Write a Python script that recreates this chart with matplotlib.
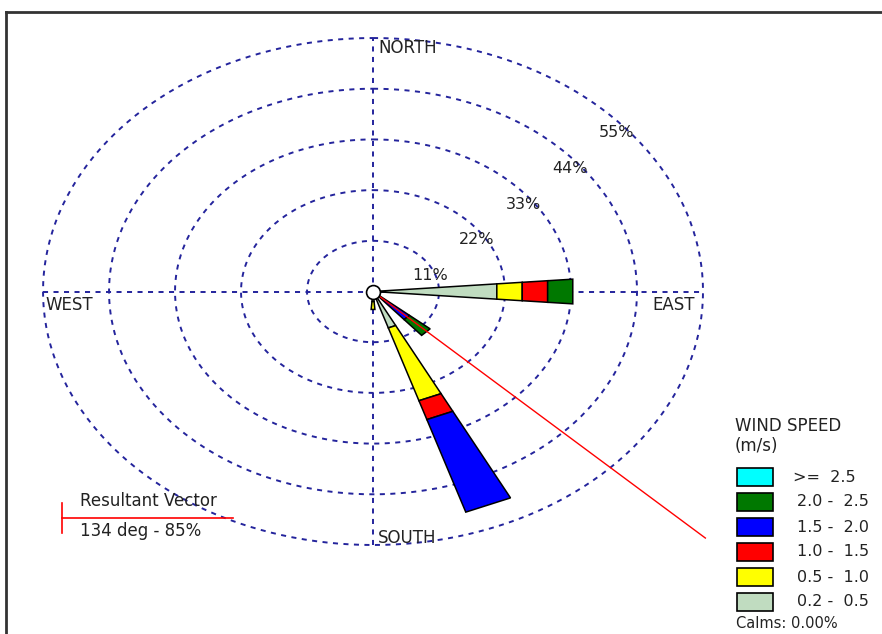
import numpy as np
import matplotlib
matplotlib.use('Agg')
import matplotlib.pyplot as plt
from matplotlib.patches import Rectangle
from matplotlib.lines import Line2D

plt.rcParams['font.family'] = ['DejaVu Sans']

# wind directions (deg from north) and frequency (%) per speed class
directions = [90, 135, 157.5, 180]
speed_labels = ['0.2 -  0.5', '0.5 -  1.0', '1.0 -  1.5', '1.5 -  2.0', '2.0 -  2.5', '>=  2.5']
speed_colors = ['#c0dcc0', '#ffff00', '#ff0000', '#0000ff', '#007800', '#00ffff']
freq_02_05 = [20.7, 0.5, 8.3, 2.2]
freq_05_10 = [4.25, 0.4, 16.6, 1.7]
freq_10_15 = [4.25, 0.6, 4.3, 0.0]
freq_15_20 = [0.0, 6.5, 21.1, 0.0]
freq_20_25 = [4.2, 4.5, 0.0, 0.0]
freq_25_up = [0.0, 0.0, 0.0, 0.0]
rings = [11, 22, 33, 44, 55]
resultant_dir = 134
resultant_pct = 85
calms = 0.00

W, H = 882, 634
fig = plt.figure(figsize=(W / 100, H / 100), dpi=100)
ax = fig.add_axes([0, 0, 1, 1])
ax.set_xlim(-62.17, 84.83)
ax.set_ylim(-74.31, 63.25)
ax.axis('off')


def xy(r, deg):
    t = np.radians(deg)
    return r * np.sin(t), r * np.cos(t)


# grid
grid_c = '#24249c'
th = np.linspace(0, 360, 361)
for r in rings:
    gx, gy = xy(r, th)
    ax.plot(gx, gy, color=grid_c, lw=1.4, dashes=(2.6, 2.8), zorder=1)
    lx, ly = xy(r, 45)
    ax.annotate(f'{r}%', (lx, ly), xytext=(7.5, -14.5), textcoords='offset points',
                ha='center', va='center', fontsize=11.5, color='#222222')
ax.plot([-55, 55], [0, 0], color=grid_c, lw=1.4, dashes=(2.6, 2.8), zorder=1)
ax.plot([0, 0], [-55, 55], color=grid_c, lw=1.4, dashes=(2.6, 2.8), zorder=1)

tk = dict(fontsize=12, color='#222222', textcoords='offset points', va='center')
ax.annotate('NORTH', (0, 55), xytext=(3.5, -7), ha='left', **tk)
ax.annotate('SOUTH', (0, -55), xytext=(3.5, 5), ha='left', **tk)
ax.annotate('WEST', (-55, 0), xytext=(1.5, -9.5), ha='left', **tk)
ax.annotate('EAST', (55, 0), xytext=(-6, -9.5), ha='right', **tk)

# petals
classes = [freq_02_05, freq_05_10, freq_10_15, freq_15_20, freq_20_25, freq_25_up]
half = 4.6
for i, d in enumerate(directions):
    r0 = 0.0
    for k, cls in enumerate(classes):
        v = cls[i]
        if v <= 0:
            continue
        r1 = r0 + v
        px, py = zip(xy(r0, d - half), xy(r1, d - half), xy(r1, d + half), xy(r0, d + half))
        ax.fill(px, py, facecolor=speed_colors[k], edgecolor='black', lw=1.1, zorder=3)
        r0 = r1

# resultant vector
ex, ey = xy(77, resultant_dir)
ax.plot([0, ex], [0, ey], color='red', lw=1, zorder=4)
ax.plot(0, 0, 'o', ms=10, mfc='white', mec='black', mew=1.2, zorder=5)


def fx(x):
    return x / W


def fy(y):
    return 1 - y / H


# frame
fig.add_artist(Line2D([fx(6), fx(6)], [fy(12), 0], color='#333333', lw=2))
fig.add_artist(Line2D([fx(6), 1], [fy(12), fy(12)], color='#333333', lw=2))

# resultant legend
fig.add_artist(Line2D([fx(62), fx(233)], [fy(518), fy(518)], color='red', lw=1.2))
fig.add_artist(Line2D([fx(62), fx(62)], [fy(503), fy(533)], color='red', lw=1.2))
fig.text(fx(80), fy(501), 'Resultant Vector', fontsize=12, color='#222222', va='center')
fig.text(fx(80), fy(531), f'{resultant_dir} deg - {resultant_pct}%', fontsize=12,
         color='#222222', va='center')

# speed legend
fig.text(fx(735), fy(426), 'WIND SPEED', fontsize=12, color='#222222', va='center')
fig.text(fx(735), fy(446), '(m/s)', fontsize=12, color='#222222', va='center')
for j, k in enumerate(range(len(speed_labels) - 1, -1, -1)):
    yc = 477 + 25 * j
    fig.add_artist(Rectangle((fx(737), fy(yc + 9)), fx(36), 18 / H,
                             facecolor=speed_colors[k], edgecolor='black', lw=1.2))
    fig.text(fx(793 if k == 5 else 797), fy(yc), speed_labels[k], fontsize=11.5,
             color='#222222', va='center')
fig.text(fx(736), fy(624), f'Calms: {calms:.2f}%', fontsize=10.5, color='#222222', va='center')

fig.savefig('out.png', dpi=100, facecolor='white')
